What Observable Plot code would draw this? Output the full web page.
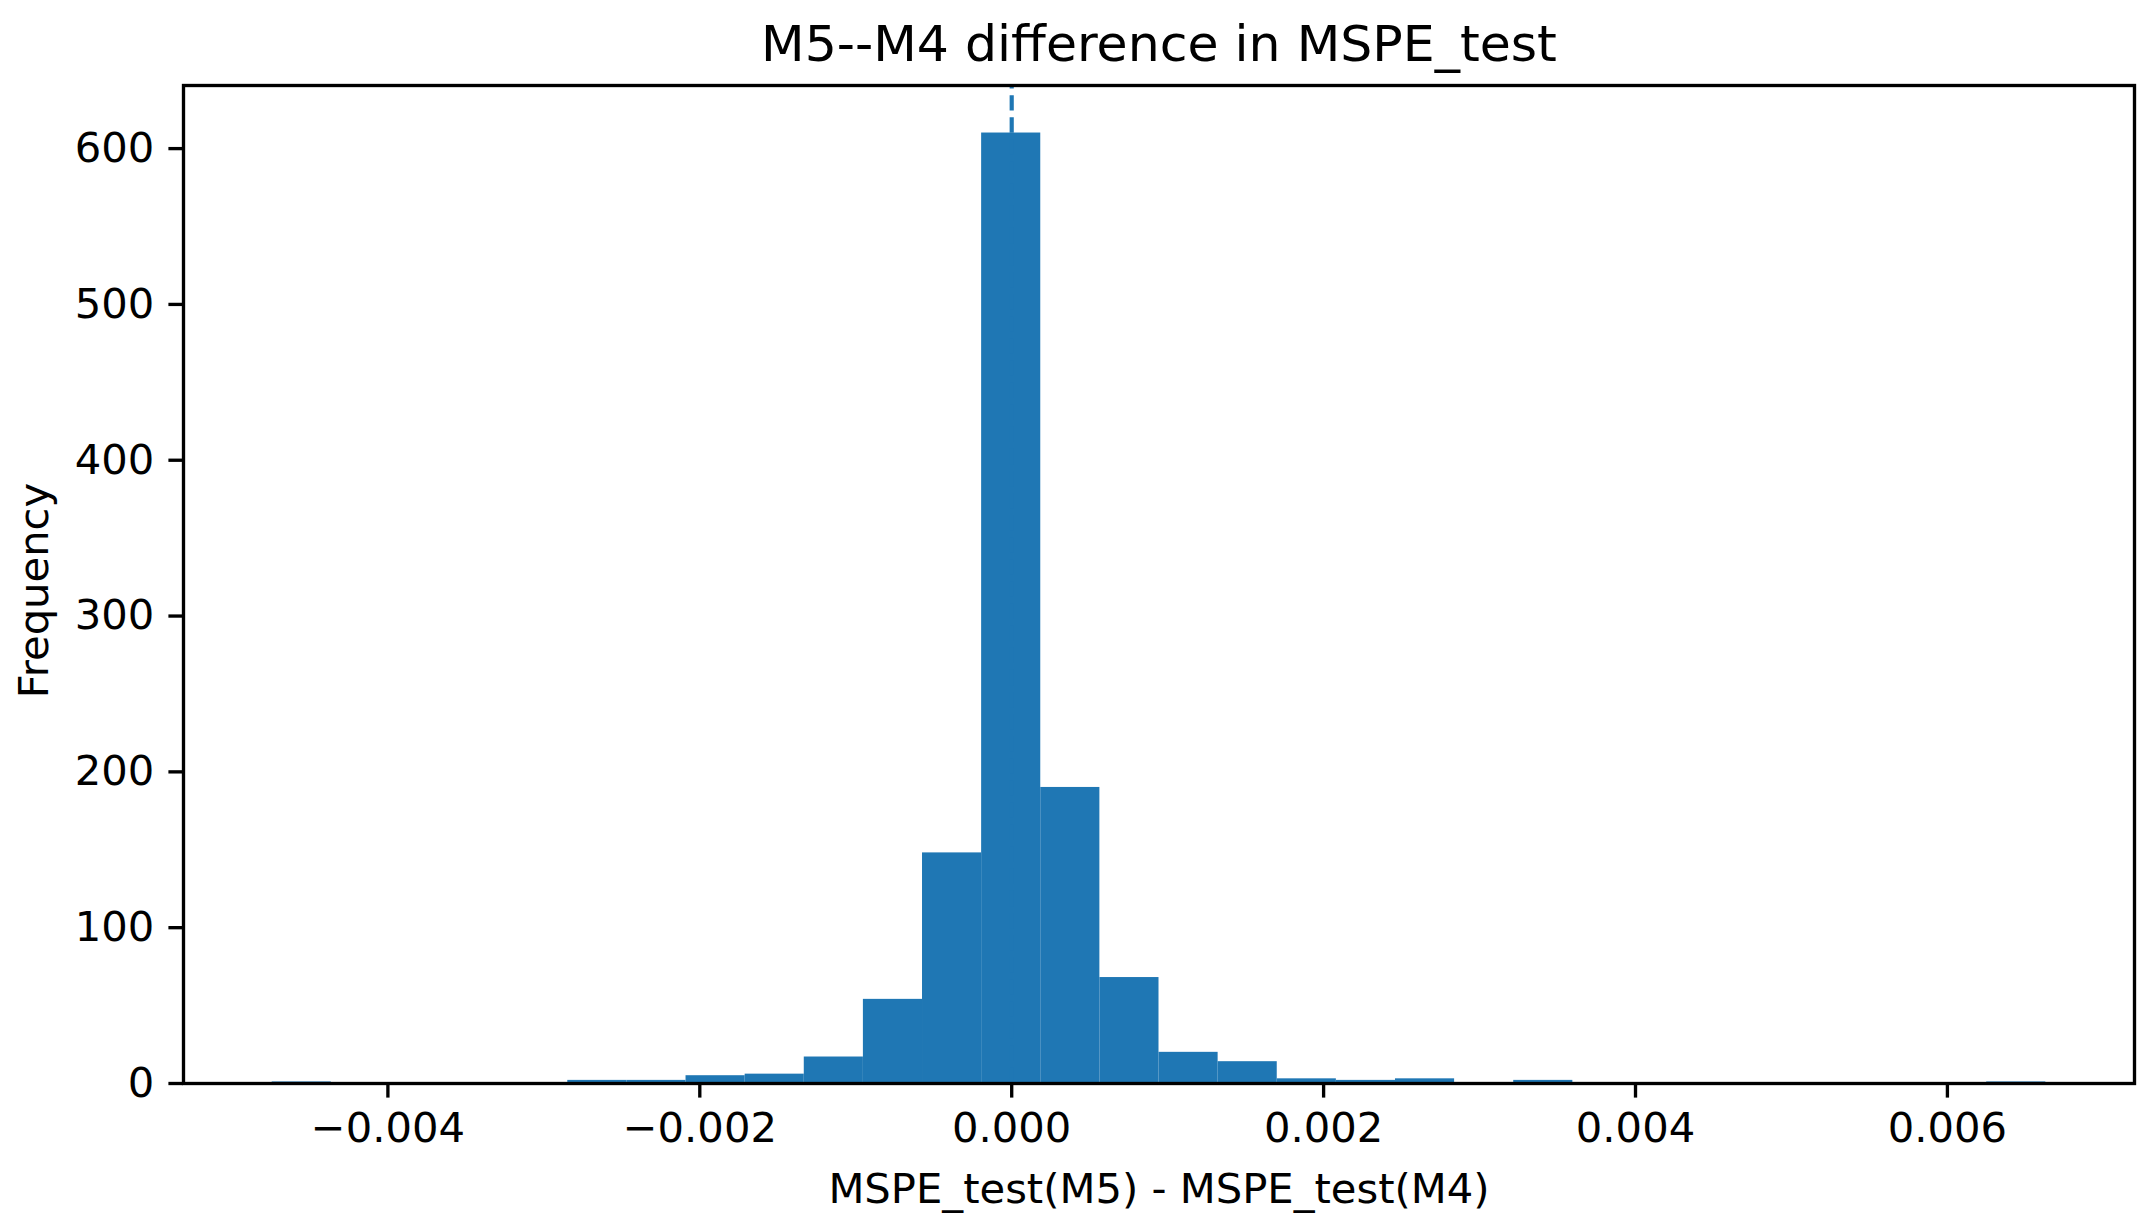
<!DOCTYPE html>
<html>
<head>
<meta charset="utf-8">
<script src="https://cdn.jsdelivr.net/npm/d3@7"></script>
<script src="https://cdn.jsdelivr.net/npm/@observablehq/plot@0.6"></script>
<style>
  html, body { margin: 0; padding: 0; background: white; }
  #chart svg { display: block; }
</style>
</head>
<body>
<div id="chart"></div>
<script>
// ---- data ----
const titleText = "M5--M4 difference in MSPE_test";
const xLabelText = "MSPE_test(M5) - MSPE_test(M4)";
const yLabelText = "Frequency";

const histMin = -0.004742;   // left edge of first bin
const histMax = 0.006631;    // right edge of last bin
const counts = [1, 0, 0, 0, 0, 2, 2, 5, 6, 17, 54, 148, 610, 190, 68, 20, 14, 3, 2, 3, 0, 2, 0, 0, 0, 0, 0, 0, 0, 1];
const meanLine = [0];

const xTicks = [-0.004, -0.002, 0.000, 0.002, 0.004, 0.006];
const yTicks = [0, 100, 200, 300, 400, 500, 600];

// ---- derived table for the library ----
const nBins = counts.length;
const binW = (histMax - histMin) / nBins;
const bins = counts.map((c, i) => ({ x0: histMin + i * binW, x1: histMin + (i + 1) * binW, count: c }));
const pad = 0.05 * (histMax - histMin);
const xDomain = [histMin - pad, histMax + pad];
const yDomain = [0, d3.max(counts) * 1.05];

const blue = "#1f77b4";
const fmt = d3.format(".3f");

const chart = Plot.plot({
  width: 2153,
  height: 1231,
  marginLeft: 183,
  marginRight: 19,
  marginTop: 85,
  marginBottom: 148,
  style: { fontFamily: "DejaVu Sans", fontSize: "41.7px", background: "white", color: "black" },
  x: { domain: xDomain },
  y: { domain: yDomain },
  marks: [
    Plot.rectY(bins, { x1: "x0", x2: "x1", y: "count", fill: blue, insetLeft: 0, insetRight: 0 }),
    Plot.ruleX(meanLine, { x: d => d, y1: () => 0, y2: () => yDomain[1], stroke: blue, strokeWidth: 4.17, strokeDasharray: "15.4,6.7" }),
    Plot.frame({ stroke: "black", strokeWidth: 3.33 }),
    Plot.axisX({ ticks: xTicks, tickFormat: fmt, tickSize: 14.6, tickPadding: 14.6, strokeWidth: 3.33, fontSize: 41.7, label: null }),
    Plot.axisY({ ticks: yTicks, tickFormat: d => String(d), tickSize: 14.6, tickPadding: 14.6, strokeWidth: 3.33, fontSize: 41.7, label: null }),
    Plot.text([titleText], { frameAnchor: "top", dy: -41, lineAnchor: "middle", textAnchor: "middle", fontSize: 50.5, fill: "black" }),
    Plot.text([xLabelText], { frameAnchor: "bottom", dy: 106, lineAnchor: "middle", textAnchor: "middle", fontSize: 41.7, fill: "black" }),
    Plot.text([yLabelText], { frameAnchor: "left", dx: -149, dy: 6, rotate: -90, lineAnchor: "middle", textAnchor: "middle", fontSize: 41.7, fill: "black" })
  ]
});
document.getElementById("chart").appendChild(chart);
</script>
</body>
</html>
